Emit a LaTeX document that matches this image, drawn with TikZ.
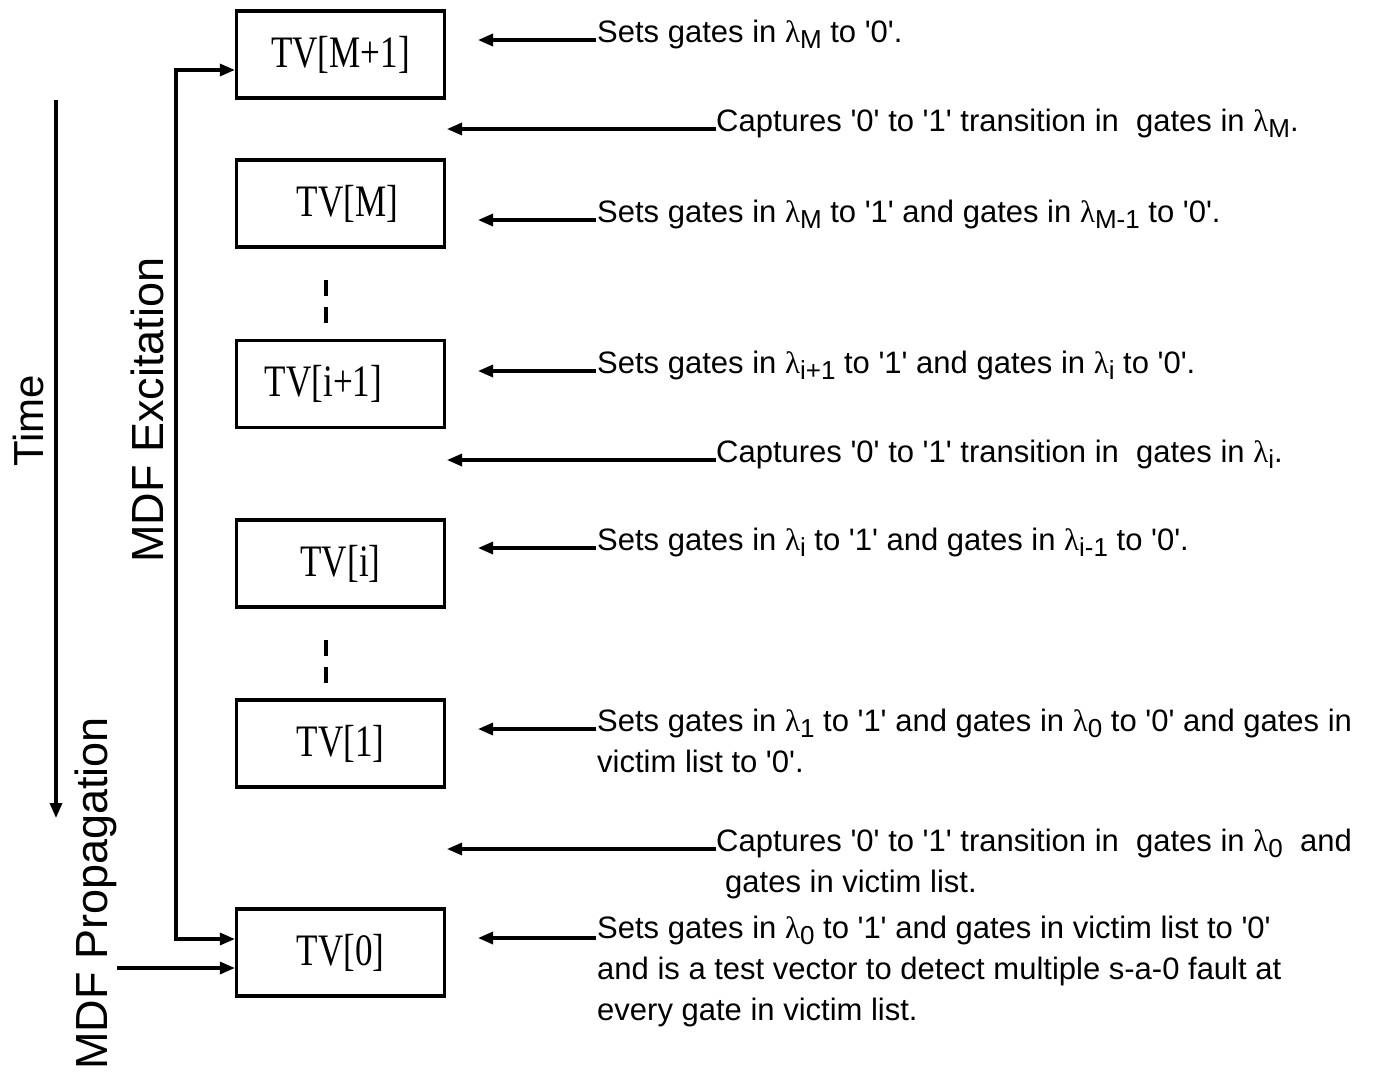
\documentclass[tikz,border=0pt]{standalone}
\usepackage{fontspec}
\usetikzlibrary{arrows.meta}
\setsansfont{Liberation Sans}
\newfontfamily\boxfont[FakeStretch=0.78]{Liberation Serif}
\newfontfamily\greekfont{Liberation Serif}
\newcommand\lam[1]{{\greekfont λ}\raisebox{-6pt}{\fontsize{26}{26}\selectfont #1}}
\newcommand\q{\textquotesingle}
\tikzset{
  box/.style={draw, line width=3.2pt, minimum width=208pt, minimum height=87pt, inner sep=0pt,
    font=\boxfont\fontsize{45}{45}\selectfont},
  arr/.style={line width=3.2pt, -{Triangle[length=15pt,width=12pt]}},
  darr/.style={line width=3.2pt, {Triangle[length=15pt,width=12pt]}-{Triangle[length=15pt,width=12pt]}},
  desc/.style={anchor=base west, inner sep=0pt, align=left,
    font=\sffamily\fontsize{31}{41}\selectfont},
  vlab/.style={rotate=90, anchor=base west, inner sep=0pt},
  dots/.style={line width=3.2pt, dash pattern=on 16pt off 11pt}
}
\begin{document}
\begin{tikzpicture}[x=1pt, y=-1pt]
\useasboundingbox (0,0) rectangle (1378,1076);
% boxes
\node[box] (b5) at (340.5,54.5) {\raisebox{-5pt}{TV[M+1]}};
\node[box] (b4) at (340.5,203.5) {\raisebox{-5pt}{\hspace*{14pt}TV[M]}};
\node[box] (b3) at (340.5,384) {\raisebox{-5pt}{TV[i+1]\hspace*{34pt}}};
\node[box] (b2) at (340.5,563.5) {\raisebox{-5pt}{TV[i]}};
\node[box] (b1) at (340.5,743.5) {\raisebox{-5pt}{TV[1]}};
\node[box] (b0) at (340.5,952.5) {\raisebox{-5pt}{TV[0]}};
% ellipsis dashes
\coordinate (d1a) at (326,280); \coordinate (d1b) at (326,323);
\coordinate (d2a) at (326,640); \coordinate (d2b) at (326,683);
\draw[dots] (d1a) -- (d1b);
\draw[dots] (d2a) -- (d2b);
% time axis
\coordinate (ta) at (56,100); \coordinate (tb) at (56,818);
\draw[arr] (ta) -- (tb);
\node[vlab, font=\sffamily\fontsize{42}{42}\selectfont] (time) at (43,467) {Time};
% excitation
\coordinate (e1) at (176,70); \coordinate (e2) at (176,939);
\draw[darr] (b5.west |- e1) -- (e1) -- (e2) -- (b0.west |- e2);
\node[vlab, font=\sffamily\fontsize{45}{45}\selectfont] (exc) at (163,563) {MDF Excitation};
% propagation
\coordinate (p1) at (117,968);
\draw[arr] (p1) -- (b0.west |- p1);
\node[vlab, font=\sffamily\fontsize{45}{45}\selectfont] (prop) at (107,1070) {MDF Propagation};
% right arrows (sets)
\foreach \n/\y in {1/40,2/220,3/371,4/548,5/729,6/938}{
  \coordinate (sa\n) at (596,\y); \coordinate (sb\n) at (478,\y);
  \draw[arr] (sa\n) -- (sb\n);
}
\foreach \n/\y in {1/129,2/460,3/849}{
  \coordinate (ca\n) at (716,\y); \coordinate (cb\n) at (447,\y);
  \draw[arr] (ca\n) -- (cb\n);
}
% texts
\node[desc] (s1) at (597,42) {Sets gates in \lam{M} to \q0\q.};
\node[desc] (c1) at (716,131) {Captures \q0\q\ to \q1\q\ transition in\ \ gates in \lam{M}.};
\node[desc] (s2) at (597,222) {Sets gates in \lam{M} to \q1\q\ and gates in \lam{M-1} to \q0\q.};
\node[desc] (s3) at (597,373) {Sets gates in \lam{i+1} to \q1\q\ and gates in \lam{i} to \q0\q.};
\node[desc] (c2) at (716,462) {Captures \q0\q\ to \q1\q\ transition in\ \ gates in \lam{i}.};
\node[desc] (s4) at (597,550) {Sets gates in \lam{i} to \q1\q\ and gates in \lam{i-1} to \q0\q.};
\node[desc] (s5) at (597,772) {Sets gates in \lam{1} to \q1\q\ and gates in \lam{0} to \q0\q\ and gates in\\victim list to \q0\q.};
\node[desc] (c3) at (716,892) {Captures \q0\q\ to \q1\q\ transition in\ \ gates in \lam{0}\ \ and\\\hspace*{9pt}gates in victim list.};
\node[desc] (s6) at (597,1020) {Sets gates in \lam{0} to \q1\q\ and gates in victim list to \q0\q\\and is a test vector to detect multiple s-a-0 fault at\\every gate in victim list.};
\end{tikzpicture}
\end{document}
